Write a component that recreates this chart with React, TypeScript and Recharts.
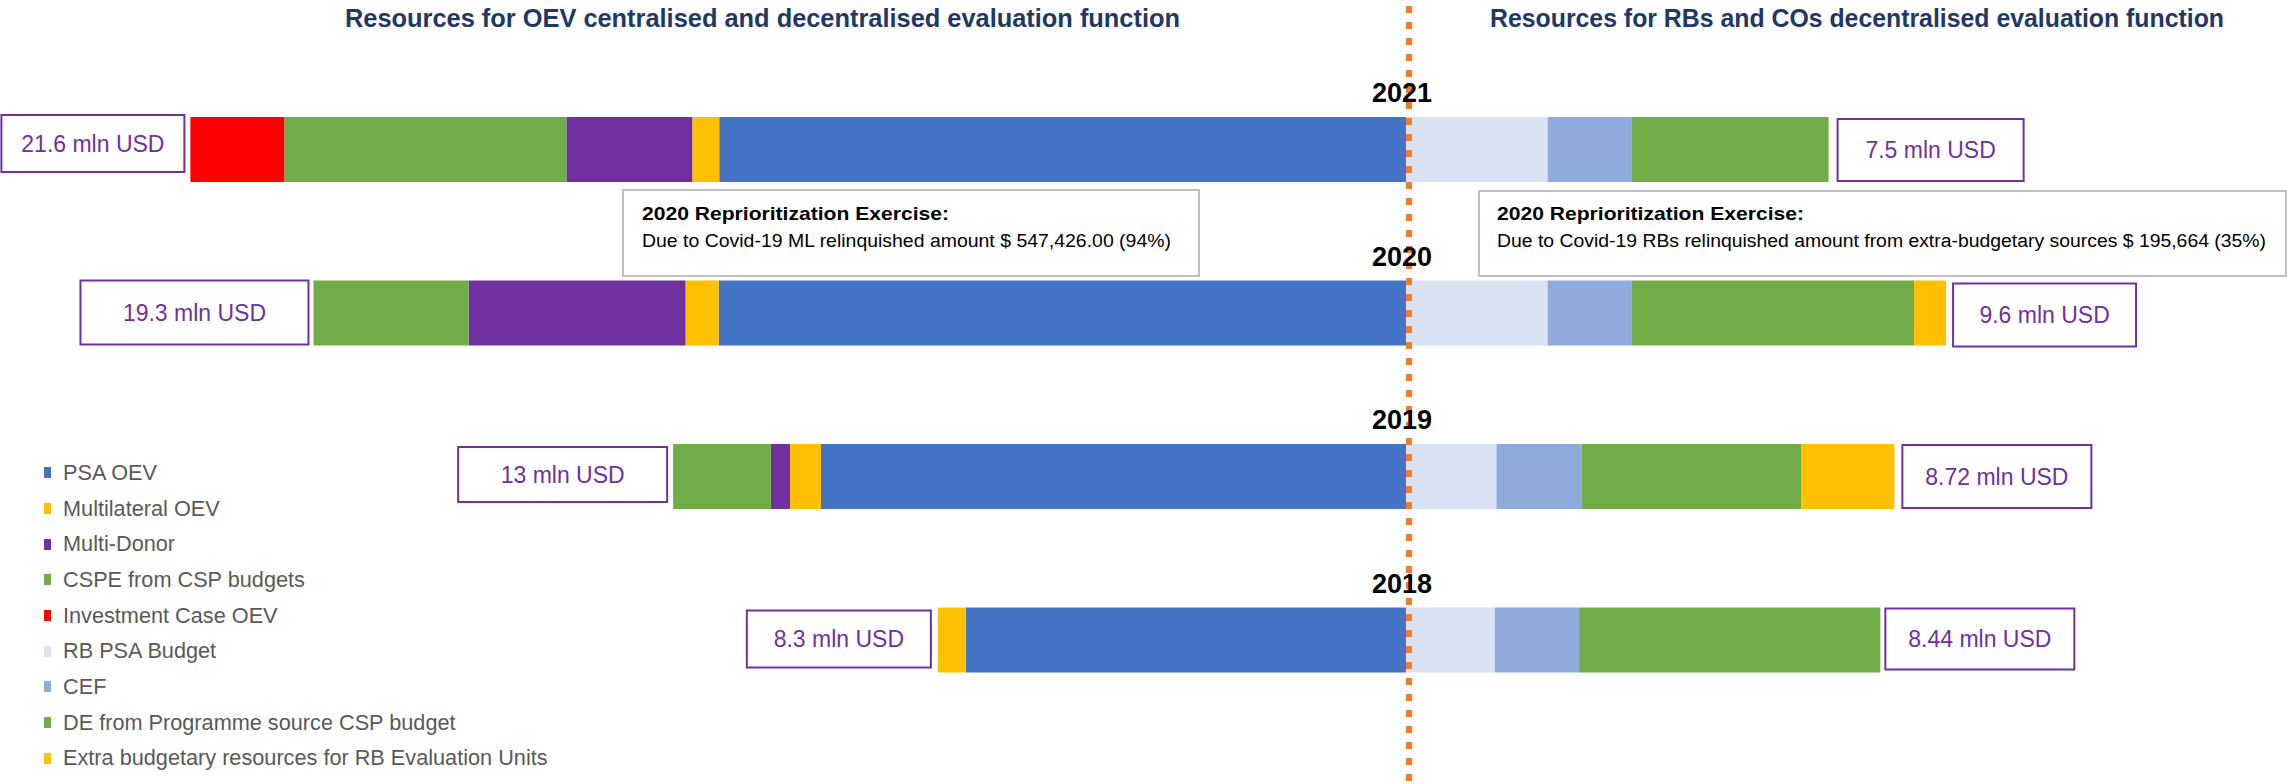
import React from "react";
import { BarChart, Bar, XAxis, YAxis, Legend, LabelList, ReferenceLine } from "recharts";

// mln USD
const years = ["2021", "2020", "2019", "2018"];
const psaOev = [12.22, 12.23, 10.41, 7.83];
const multilateralOev = [0.48, 0.59, 0.55, 0.5];
const multiDonor = [2.24, 3.86, 0.34, 0];
const cspeFromCsp = [5.02, 2.76, 1.74, 0];
const investmentCase = [1.67, 0, 0, 0];
const rbPsaBudget = [2.52, 2.52, 1.61, 1.58];
const cef = [1.5, 1.5, 1.51, 1.5];
const deProgramme = [3.5, 5.02, 3.91, 5.36];
const extraBudgetary = [0, 0.57, 1.66, 0];
const leftTotals = ["21.6 mln USD", "19.3 mln USD", "13 mln USD", "8.3 mln USD"];
const rightTotals = ["7.5 mln USD", "9.6 mln USD", "8.72 mln USD", "8.44 mln USD"];

const leftSeries = [
  { key: "psaOev", name: "PSA OEV", values: psaOev, color: "#4472C4" },
  { key: "multilateralOev", name: "Multilateral OEV", values: multilateralOev, color: "#FFC000" },
  { key: "multiDonor", name: "Multi-Donor", values: multiDonor, color: "#7030A0" },
  { key: "cspe", name: "CSPE from CSP budgets", values: cspeFromCsp, color: "#70AD47" },
  { key: "investmentCase", name: "Investment Case OEV", values: investmentCase, color: "#FF0000" },
];
const rightSeries = [
  { key: "rbPsa", name: "RB PSA Budget", values: rbPsaBudget, color: "#DAE3F3" },
  { key: "cef", name: "CEF", values: cef, color: "#8FAADC" },
  { key: "deProgramme", name: "DE from Programme source CSP budget", values: deProgramme, color: "#70AD47" },
  { key: "extraBudgetary", name: "Extra budgetary resources for RB Evaluation Units", values: extraBudgetary, color: "#FFC000" },
];
const seriesOrder = [...leftSeries, ...rightSeries].map((s) => s.key);

// left side goes negative so it stacks to the left of the dashed line
const tableData = years.map((year, i) => {
  const row: Record<string, any> = { year, leftLabel: leftTotals[i], rightLabel: rightTotals[i] };
  leftSeries.forEach((s) => (row[s.key] = -s.values[i]));
  rightSeries.forEach((s) => (row[s.key] = s.values[i]));
  return row;
});

const outerKey = (series: typeof leftSeries, i: number) => {
  let k = "";
  series.forEach((s) => {
    if (s.values[i] !== 0) k = s.key;
  });
  return k;
};

const leftBox = [
  { w: 185, gap: 5, dy: -2, h: 57 },
  { w: 230, gap: 4, dy: 0, h: 64 },
  { w: 211, gap: 5, dy: 3, h: 55 },
  { w: 186, gap: 6, dy: 3, h: 57 },
];
const rightBox = [
  { w: 188, gap: 8, dy: 2, h: 62 },
  { w: 185, gap: 6, dy: 3, h: 63 },
  { w: 191, gap: 7, dy: 1, h: 63 },
  { w: 191, gap: 4, dy: 1, h: 61 },
];

const FONT = "'Liberation Sans Narrow', 'Arial Narrow', 'Liberation Sans', sans-serif";
const PURPLE = "#7030A0";

const rectOf = (props: any) => {
  const vb = props.viewBox ?? props;
  const x = Number(vb.x), w = Number(vb.width);
  return { left: Math.min(x, x + w), right: Math.max(x, x + w), y: Number(vb.y), h: Number(vb.height) };
};

// zero-width segments are dropped from the label list, so find the row by its label text
const totalLabel = (key: string, side: "left" | "right") => (props: any) => {
  const totals = side === "left" ? leftTotals : rightTotals;
  const i = totals.indexOf(props.value);
  if (i < 0) return null;
  const series = side === "left" ? leftSeries : rightSeries;
  if (outerKey(series, i) !== key) return null;
  const r = rectOf(props);
  const st = side === "left" ? leftBox[i] : rightBox[i];
  const bx = side === "left" ? r.left - st.gap - st.w : r.right + st.gap;
  const by = r.y + st.dy;
  return (
    <g>
      <rect x={bx + 1} y={by} width={st.w - 2} height={st.h} fill="#fff" stroke={PURPLE} strokeWidth={2} />
      <text x={bx + st.w / 2} y={by + st.h / 2} textAnchor="middle" dominantBaseline="central"
        fontFamily={FONT} fontSize={23} fill={PURPLE}>
        {props.value}
      </text>
    </g>
  );
};

const yearLabel = (props: any) => {
  const r = rectOf(props);
  return (
    <text x={r.right - 4} y={r.y - 24} textAnchor="middle" dominantBaseline="central"
      fontFamily={FONT} fontWeight="bold" fontSize={27} fill="#000">
      {props.value}
    </text>
  );
};

const renderLegend = (props: any) => {
  const items = [...(props.payload ?? [])].sort(
    (a: any, b: any) => seriesOrder.indexOf(a.dataKey) - seriesOrder.indexOf(b.dataKey)
  );
  return (
    <div>
      {items.map((it: any) => (
        <div key={it.dataKey} style={{ height: 35.7, display: "flex", alignItems: "center" }}>
          <span style={{ display: "inline-block", width: 7, height: 11, background: it.color, marginLeft: 44, marginRight: 12 }} />
          <span style={{ fontFamily: FONT, fontSize: 21.7, color: "#595959", whiteSpace: "nowrap" }}>{it.value}</span>
        </div>
      ))}
    </div>
  );
};

export default function App() {
  return (
    <div style={{ position: "relative", width: 2287, height: 784, background: "#fff", overflow: "hidden" }}>
      <style>{`body{margin:0}`}</style>
      <BarChart
        width={2287}
        height={784}
        data={tableData}
        layout="vertical"
        stackOffset="sign"
        barSize={65}
        margin={{ top: 68, right: 38, bottom: 62, left: 1 }}
      >
        <XAxis type="number" domain={[-25, 15]} hide />
        <YAxis type="category" dataKey="year" hide width={0} />
        <Legend
          layout="vertical"
          align="center"
          verticalAlign="middle"
          content={renderLegend}
          wrapperStyle={{ position: "absolute", left: 0, top: 455, width: 620 }}
        />
        {leftSeries.map((s, idx) => (
          <Bar key={s.key} dataKey={s.key} name={s.name} stackId="a" fill={s.color} isAnimationActive={false}>
            {idx === 0 && <LabelList dataKey="year" content={yearLabel} />}
            <LabelList dataKey="leftLabel" content={totalLabel(s.key, "left")} />
          </Bar>
        ))}
        {rightSeries.map((s) => (
          <Bar key={s.key} dataKey={s.key} name={s.name} stackId="a" fill={s.color} isAnimationActive={false}>
            <LabelList dataKey="rightLabel" content={totalLabel(s.key, "right")} />
          </Bar>
        ))}
        <ReferenceLine
          x={0}
          zIndex={1500}
          shape={(p: any) => (
            <line x1={p.x1 + 3} x2={p.x2 + 3} y1={6} y2={784} stroke="#ED7D31" strokeWidth={6} strokeDasharray="7 9" />
          )}
        />
      </BarChart>

      <svg width={2287} height={784} style={{ position: "absolute", left: 0, top: 0, pointerEvents: "none" }}>
        <text x={345} y={27} fontFamily={FONT} fontWeight="bold" fontSize={25} fill="#1F3864"
          textLength={835} lengthAdjust="spacingAndGlyphs">
          Resources for OEV centralised and decentralised evaluation function
        </text>
        <text x={1490} y={27} fontFamily={FONT} fontWeight="bold" fontSize={25} fill="#1F3864"
          textLength={734} lengthAdjust="spacingAndGlyphs">
          Resources for RBs and COs decentralised evaluation function
        </text>

        <rect x={623} y={190} width={576} height={86} fill="#fff" stroke="#BFBFBF" strokeWidth={2} />
        <text x={642} y={220} fontFamily={FONT} fontWeight="bold" fontSize={18.5} fill="#000"
          textLength={307} lengthAdjust="spacingAndGlyphs">
          2020 Reprioritization Exercise:
        </text>
        <text x={642} y={247} fontFamily={FONT} fontSize={18.5} fill="#000"
          textLength={529} lengthAdjust="spacingAndGlyphs">
          Due to Covid-19 ML relinquished amount $ 547,426.00 (94%)
        </text>

        <rect x={1479} y={191} width={807} height={85} fill="#fff" stroke="#BFBFBF" strokeWidth={2} />
        <text x={1497} y={220} fontFamily={FONT} fontWeight="bold" fontSize={18.5} fill="#000"
          textLength={307} lengthAdjust="spacingAndGlyphs">
          2020 Reprioritization Exercise:
        </text>
        <text x={1497} y={247} fontFamily={FONT} fontSize={18} fill="#000"
          textLength={769} lengthAdjust="spacingAndGlyphs">
          Due to Covid-19 RBs relinquished amount from extra-budgetary sources $ 195,664 (35%)
        </text>
      </svg>
    </div>
  );
}
